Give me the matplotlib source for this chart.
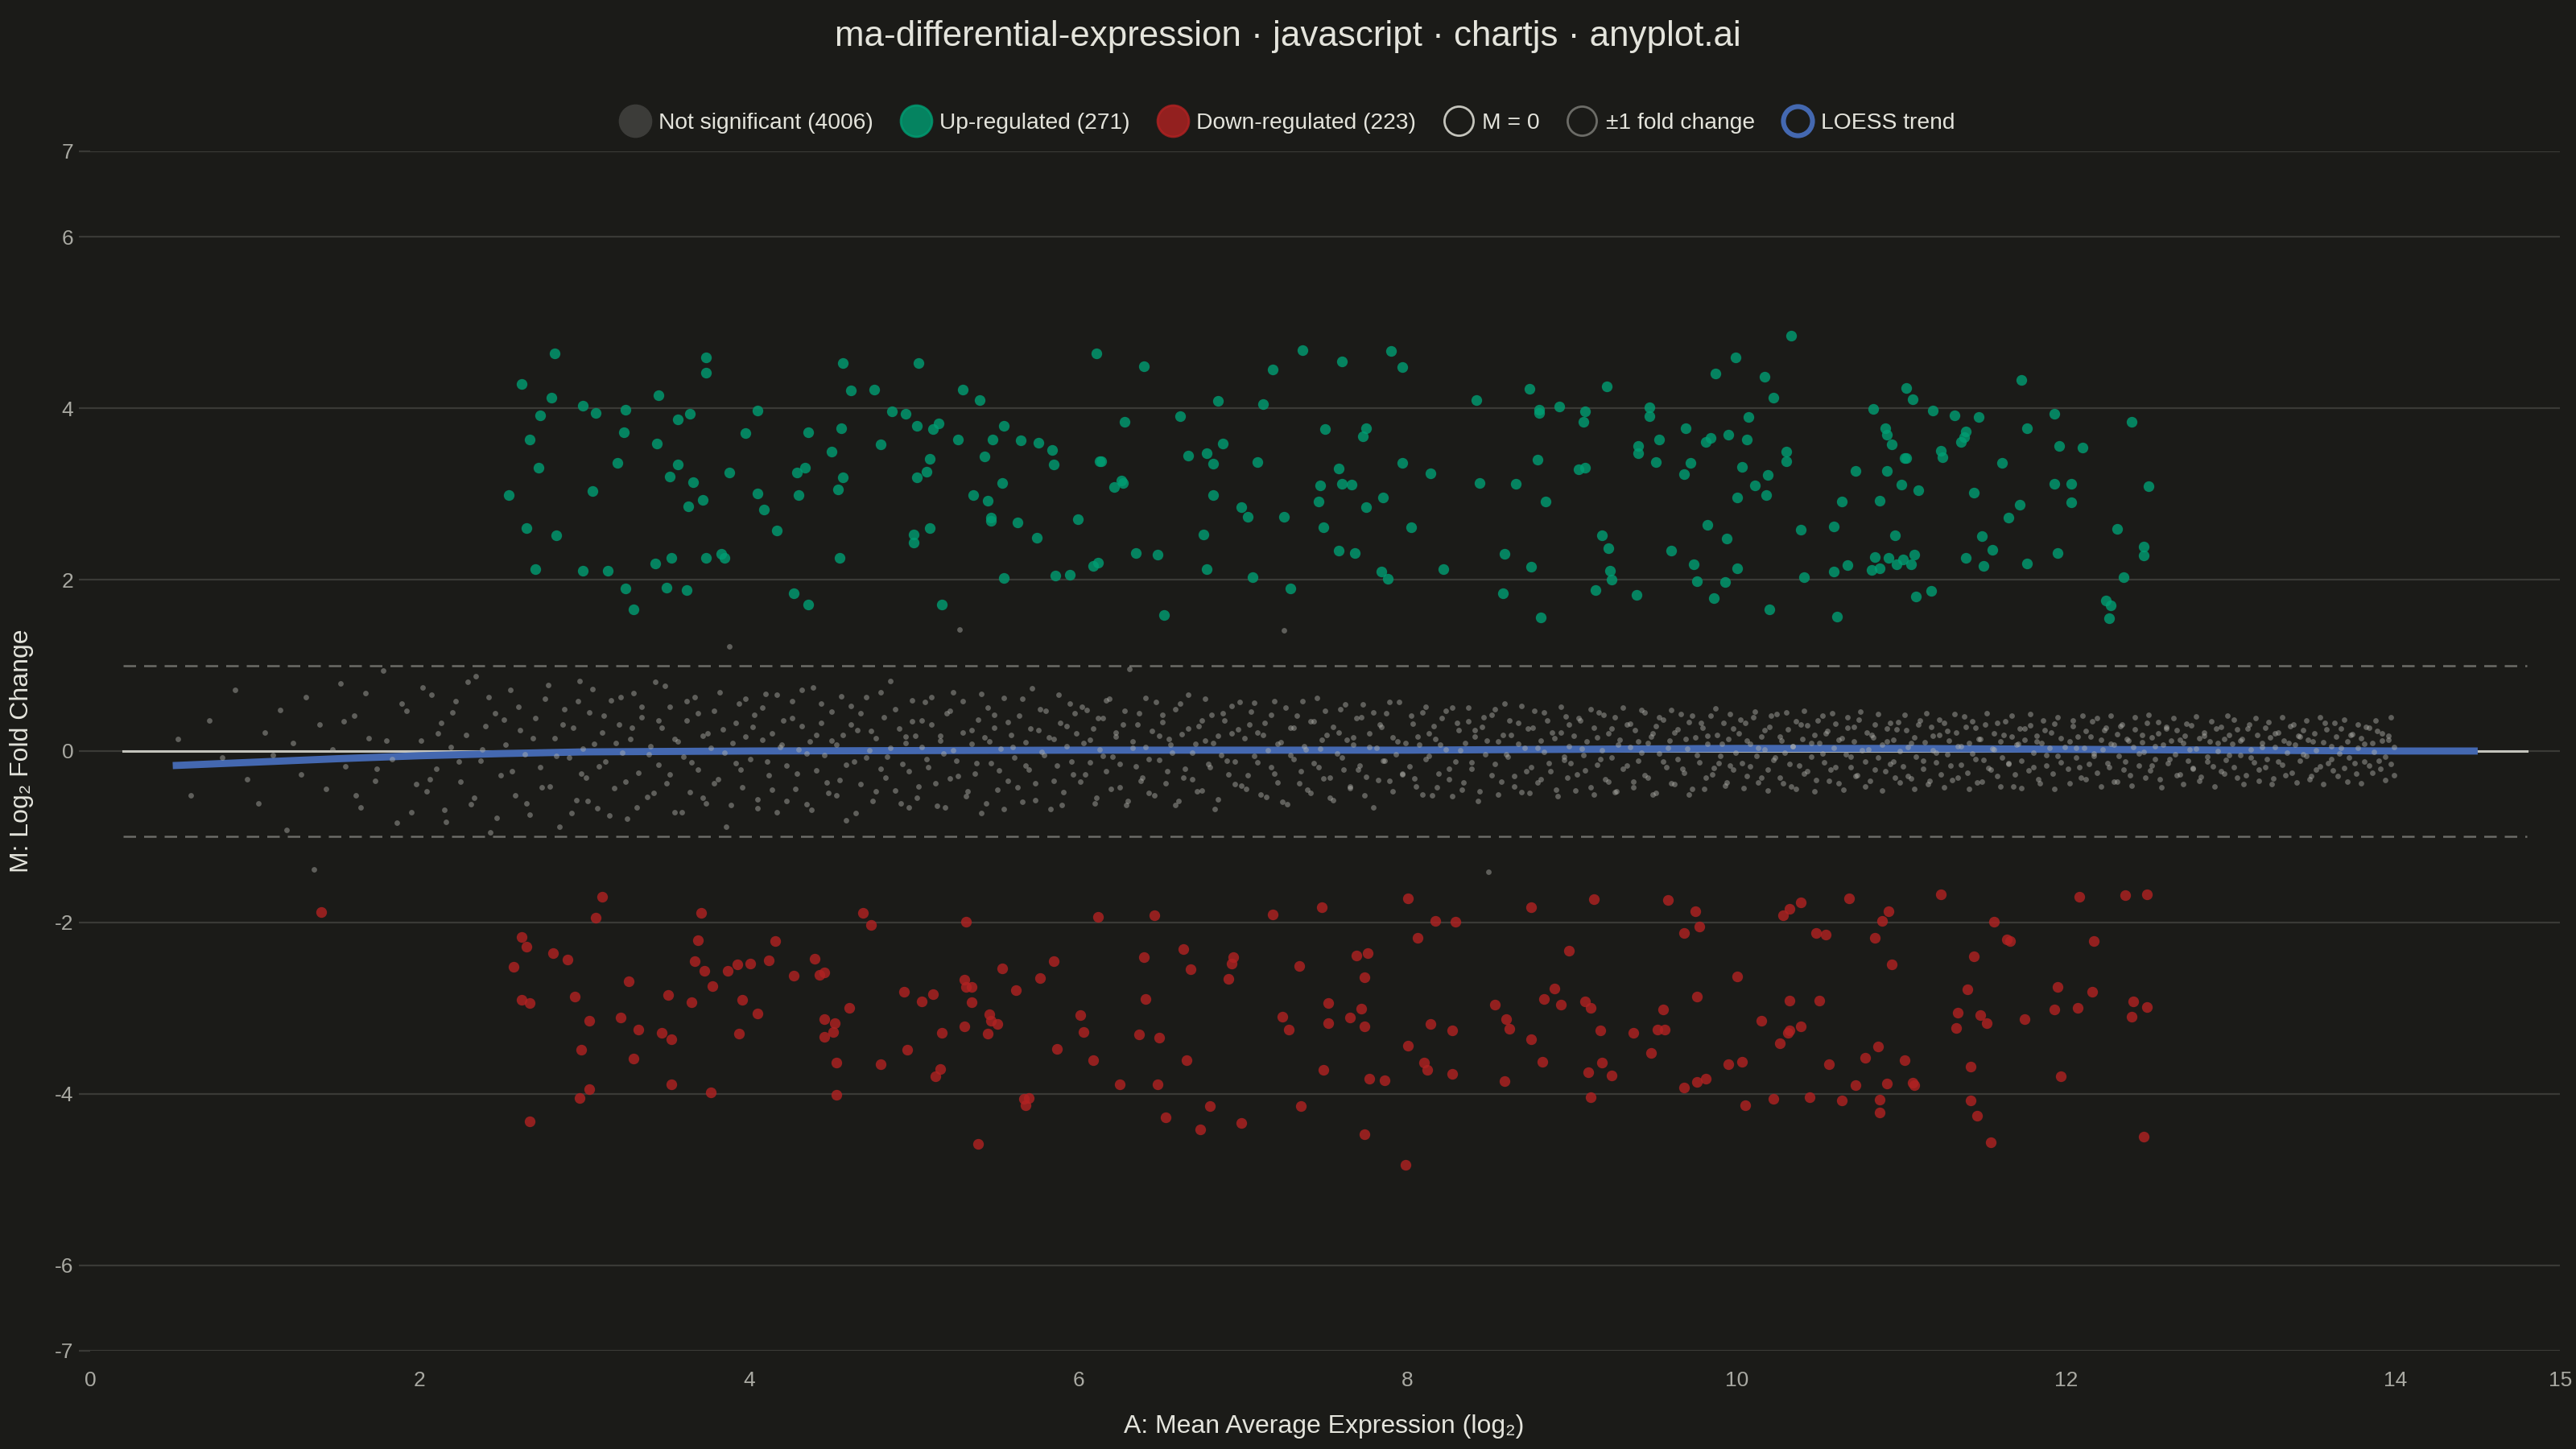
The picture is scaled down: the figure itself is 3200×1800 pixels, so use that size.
import matplotlib
matplotlib.use("Agg")
import matplotlib.pyplot as plt
from matplotlib.lines import Line2D
import numpy as np

# --- values ---
n_not_sig = 4006
n_up = 271
n_down = 223
fc_threshold = 1.0
ref_span = (0.2, 14.8)  # extent of the M = 0 and +-1 reference lines

# significant up-regulated genes (A, M)
up_points = [
    (2.82, 4.64), (2.62, 4.28), (2.80, 4.12), (2.99, 4.03), (3.07, 3.95), (2.73, 3.92), (3.25, 3.98), (3.45, 4.15),
    (3.74, 4.59), (3.74, 4.42), (3.57, 3.87), (3.64, 3.94), (4.05, 3.97), (4.57, 4.53), (4.62, 4.21), (4.76, 4.22),
    (4.87, 3.96), (2.67, 3.64), (3.24, 3.72), (3.44, 3.59), (3.98, 3.71), (4.36, 3.72), (4.56, 3.77), (4.80, 3.58),
    (4.50, 3.49), (2.72, 3.31), (3.20, 3.36), (3.57, 3.34), (3.52, 3.20), (3.66, 3.14), (3.88, 3.25), (4.29, 3.25),
    (4.34, 3.31), (4.57, 3.19), (4.54, 3.05), (2.54, 2.99), (3.05, 3.03), (4.05, 3.01), (4.30, 2.99), (3.72, 2.93),
    (3.63, 2.86), (4.09, 2.82), (2.65, 2.60), (2.83, 2.52), (4.17, 2.57), (2.70, 2.12), (2.99, 2.10), (3.14, 2.10),
    (3.43, 2.19), (3.53, 2.25), (3.74, 2.25), (3.83, 2.30), (3.85, 2.25), (4.55, 2.25), (3.25, 1.90), (3.50, 1.91),
    (3.62, 1.88), (3.30, 1.65), (4.27, 1.84), (4.36, 1.71),
    (5.03, 4.53), (5.30, 4.22), (5.40, 4.10), (6.11, 4.64), (6.40, 4.49), (7.36, 4.68), (7.18, 4.45), (6.85, 4.09),
    (7.12, 4.05), (4.95, 3.94), (5.02, 3.80), (5.15, 3.82), (5.12, 3.76), (5.55, 3.80), (5.27, 3.64), (5.48, 3.64),
    (5.65, 3.63), (5.76, 3.60), (5.84, 3.51), (5.85, 3.34), (5.43, 3.44), (5.10, 3.41), (5.08, 3.26), (5.02, 3.19),
    (6.28, 3.84), (6.62, 3.91), (7.50, 3.76), (6.13, 3.38), (6.14, 3.38), (6.67, 3.45), (6.78, 3.48), (6.82, 3.35),
    (6.88, 3.59), (7.09, 3.37), (5.54, 3.13), (5.36, 2.99), (5.45, 2.92), (6.26, 3.16), (6.27, 3.13), (6.22, 3.08),
    (6.82, 2.99), (7.47, 3.10), (7.46, 2.91), (6.99, 2.85), (7.03, 2.73), (7.25, 2.73), (7.49, 2.61), (5.47, 2.72),
    (5.47, 2.69), (5.63, 2.67), (6.00, 2.71), (5.10, 2.60), (5.00, 2.53), (5.00, 2.43), (5.75, 2.49), (6.76, 2.53),
    (6.35, 2.31), (6.48, 2.29), (6.12, 2.20), (6.09, 2.16), (6.78, 2.12), (5.55, 2.02), (5.86, 2.05), (5.95, 2.06),
    (7.06, 2.03), (7.29, 1.90), (5.17, 1.71), (6.52, 1.59),
    (7.60, 4.55), (7.90, 4.67), (7.97, 4.48), (8.42, 4.10), (8.74, 4.23), (9.21, 4.26), (9.87, 4.41), (9.99, 4.59),
    (8.80, 3.98), (8.80, 3.95), (8.92, 4.02), (9.08, 3.96), (9.07, 3.84), (9.47, 4.01), (9.47, 3.91), (10.07, 3.90),
    (7.75, 3.77), (7.73, 3.67), (7.58, 3.30), (7.60, 3.12), (7.66, 3.11), (7.97, 3.36), (8.14, 3.24), (8.44, 3.13),
    (8.66, 3.12), (8.79, 3.40), (9.04, 3.29), (9.08, 3.31), (8.84, 2.91), (9.40, 3.56), (9.40, 3.48), (9.53, 3.64),
    (9.51, 3.37), (9.69, 3.77), (9.81, 3.61), (9.84, 3.65), (9.95, 3.69), (10.06, 3.64), (9.72, 3.36), (9.68, 3.23),
    (10.03, 3.32), (10.00, 2.96), (7.85, 2.96), (7.75, 2.85), (8.02, 2.61), (7.58, 2.34), (7.68, 2.31), (7.84, 2.09),
    (7.88, 2.01), (8.22, 2.12), (8.59, 2.30), (8.75, 2.15), (8.58, 1.84), (8.81, 1.56), (9.18, 2.52), (9.22, 2.37),
    (9.23, 2.10), (9.24, 2.00), (9.14, 1.88), (9.39, 1.82), (9.60, 2.34), (9.82, 2.64), (9.94, 2.48), (9.74, 2.18),
    (10.00, 2.13), (9.76, 1.98), (9.93, 1.97), (9.86, 1.78),
    (10.33, 4.85), (10.17, 4.37), (10.22, 4.12), (10.83, 3.99), (11.03, 4.24), (11.07, 4.11), (11.19, 3.97),
    (11.32, 3.92), (11.47, 3.90), (11.73, 4.33), (11.93, 3.94), (11.76, 3.77), (12.40, 3.84), (10.90, 3.77),
    (10.91, 3.69), (10.94, 3.58), (11.39, 3.73), (11.38, 3.66), (11.36, 3.61), (11.24, 3.50), (11.25, 3.43),
    (11.02, 3.42), (11.03, 3.42), (11.96, 3.56), (12.10, 3.54), (11.61, 3.36), (10.30, 3.49), (10.30, 3.38),
    (10.19, 3.22), (10.11, 3.10), (10.18, 2.99), (10.72, 3.27), (10.91, 3.27), (11.00, 3.11), (11.10, 3.04),
    (10.64, 2.91), (10.87, 2.92), (11.44, 3.02), (11.72, 2.87), (11.65, 2.72), (11.93, 3.12), (12.03, 3.12),
    (12.03, 2.90), (12.50, 3.09), (10.39, 2.58), (10.59, 2.62), (10.96, 2.52), (11.49, 2.51), (11.55, 2.35),
    (12.31, 2.59), (12.47, 2.39), (12.47, 2.28), (10.84, 2.26), (10.92, 2.25), (11.01, 2.24), (11.08, 2.29),
    (10.97, 2.18), (11.06, 2.18), (10.82, 2.11), (10.87, 2.13), (10.67, 2.17), (10.59, 2.09), (10.41, 2.03),
    (11.39, 2.25), (11.50, 2.16), (11.76, 2.19), (11.95, 2.31), (12.35, 2.03), (11.09, 1.80), (11.18, 1.87),
    (10.20, 1.65), (10.61, 1.57), (12.24, 1.76), (12.27, 1.70), (12.26, 1.55),
]

# significant down-regulated genes (A, M)
down_points = [
    (1.40, -1.88),
    (3.11, -1.70), (3.07, -1.95), (3.71, -1.89), (4.69, -1.89), (4.74, -2.03), (2.62, -2.17), (2.65, -2.28),
    (2.81, -2.36), (2.90, -2.43), (2.57, -2.52), (3.69, -2.21), (3.67, -2.45), (3.73, -2.57), (4.16, -2.22),
    (3.87, -2.57), (3.93, -2.49), (4.01, -2.48), (4.12, -2.44), (4.27, -2.62), (4.40, -2.42), (4.46, -2.58),
    (4.43, -2.61), (3.27, -2.69), (3.78, -2.74), (2.62, -2.90), (2.67, -2.94), (2.94, -2.87), (3.51, -2.85),
    (3.65, -2.93), (3.96, -2.90), (4.94, -2.81), (4.05, -3.06), (4.61, -3.00), (3.03, -3.15), (3.22, -3.11),
    (3.33, -3.25), (3.47, -3.29), (3.53, -3.36), (3.94, -3.30), (4.46, -3.13), (4.52, -3.18), (4.51, -3.28),
    (4.46, -3.34), (2.98, -3.49), (3.30, -3.59), (4.96, -3.49), (4.53, -3.64), (4.80, -3.66), (3.03, -3.95),
    (2.97, -4.05), (3.53, -3.89), (3.77, -3.98), (4.53, -4.01), (2.67, -4.32),
    (5.32, -1.99), (6.12, -1.94), (6.46, -1.92), (7.18, -1.91), (7.48, -1.82), (6.64, -2.31), (6.40, -2.41),
    (6.68, -2.55), (6.94, -2.41), (6.93, -2.48), (6.91, -2.66), (7.34, -2.51), (5.54, -2.54), (5.85, -2.45),
    (5.77, -2.65), (5.62, -2.79), (5.31, -2.67), (5.32, -2.75), (5.35, -2.75), (5.35, -2.93), (5.12, -2.84),
    (5.05, -2.92), (6.41, -2.89), (7.52, -2.94), (5.46, -3.07), (5.47, -3.15), (5.51, -3.19), (5.31, -3.21),
    (5.45, -3.30), (5.17, -3.29), (6.01, -3.08), (6.03, -3.28), (6.37, -3.31), (6.49, -3.35), (7.24, -3.10),
    (7.28, -3.25), (7.52, -3.18), (5.87, -3.48), (6.09, -3.61), (6.66, -3.61), (5.16, -3.71), (5.13, -3.80),
    (7.49, -3.72), (6.25, -3.89), (6.48, -3.89), (5.67, -4.06), (5.70, -4.05), (5.68, -4.13), (6.80, -4.14),
    (7.35, -4.14), (6.53, -4.28), (6.99, -4.34), (6.74, -4.42), (5.39, -4.59),
    (8.00, -1.72), (8.75, -1.82), (9.13, -1.73), (9.58, -1.74), (9.75, -1.87), (8.17, -1.98), (8.29, -1.99),
    (8.06, -2.18), (9.68, -2.12), (9.77, -2.05), (8.98, -2.33), (7.69, -2.39), (7.76, -2.36), (7.74, -2.64),
    (10.00, -2.63), (7.72, -3.01), (7.65, -3.11), (7.74, -3.21), (8.89, -2.77), (8.83, -2.89), (8.93, -2.96),
    (9.08, -2.92), (9.11, -3.00), (8.53, -2.96), (8.60, -3.13), (8.62, -3.24), (8.75, -3.36), (9.76, -2.87),
    (9.55, -3.02), (9.52, -3.25), (9.56, -3.25), (9.17, -3.26), (9.37, -3.29), (9.48, -3.52), (8.14, -3.19),
    (8.27, -3.26), (8.00, -3.44), (8.10, -3.64), (8.12, -3.72), (8.27, -3.77), (8.59, -3.85), (8.82, -3.63),
    (9.18, -3.64), (9.10, -3.75), (9.24, -3.79), (9.11, -4.04), (9.68, -3.93), (9.76, -3.86), (9.81, -3.82),
    (9.95, -3.66), (10.03, -3.63), (10.05, -4.13), (7.77, -3.82), (7.86, -3.84), (7.74, -4.47), (7.99, -4.83),
    (10.39, -1.77), (10.32, -1.84), (10.28, -1.92), (10.68, -1.72), (10.92, -1.87), (10.88, -1.98), (11.24, -1.67),
    (12.08, -1.70), (12.36, -1.68), (12.49, -1.67), (11.56, -1.99), (10.48, -2.12), (10.54, -2.14), (10.84, -2.18),
    (10.94, -2.49), (11.64, -2.20), (11.66, -2.22), (12.17, -2.22), (11.44, -2.40), (11.40, -2.78), (11.34, -3.05),
    (11.48, -3.08), (11.52, -3.18), (11.33, -3.23), (11.75, -3.13), (11.95, -2.75), (12.16, -2.81), (11.93, -3.02),
    (12.07, -3.00), (12.41, -2.92), (12.49, -2.99), (12.40, -3.10), (10.32, -2.91), (10.50, -2.91), (10.15, -3.15),
    (10.32, -3.26), (10.31, -3.29), (10.39, -3.21), (10.26, -3.41), (10.86, -3.45), (10.78, -3.58), (10.56, -3.66),
    (11.02, -3.61), (10.72, -3.90), (10.91, -3.88), (11.07, -3.87), (11.08, -3.90), (11.42, -3.68), (11.97, -3.80),
    (10.22, -4.06), (10.44, -4.04), (10.64, -4.08), (10.87, -4.07), (10.87, -4.22), (11.42, -4.08), (11.46, -4.26),
    (11.54, -4.57), (12.47, -4.50),
]

# not significant genes (A, M), a thinned reading of the grey cloud (core of the band)
ns_points = [
    (0.53, 0.14), (0.61, -0.52), (0.72, 0.36), (0.80, -0.08), (0.88, 0.71), (0.95, -0.33),
    (1.02, -0.61), (1.06, 0.22), (1.11, -0.05), (1.15, 0.48), (1.19, -0.92), (1.23, 0.09), (1.28, -0.27), (1.31, 0.63),
    (1.36, -1.38), (1.39, 0.31), (1.43, -0.44), (1.47, 0.02), (1.52, 0.79), (1.55, -0.18), (1.60, 0.41), (1.64, -0.66),
    (1.69, 0.15), (1.73, -0.35), (1.78, 0.94), (1.83, -0.09), (1.89, 0.55), (1.95, -0.71),
    (2.01, 0.12), (2.04, -0.47), (2.07, 0.66), (2.10, -0.21), (2.13, 0.33), (2.16, -0.83), (2.19, 0.05), (2.22, 0.58),
    (2.25, -0.36), (2.28, 0.19), (2.31, -0.62), (2.34, 0.87), (2.37, -0.11), (2.40, 0.29), (2.43, -0.95), (2.46, 0.44),
    (2.49, -0.28), (2.52, 0.07), (2.55, 0.71), (2.58, -0.52), (2.61, 0.24), (2.64, -0.04), (2.67, -0.74), (2.70, 0.38),
    (2.73, -0.19), (2.76, 0.61), (2.79, -0.41), (2.82, 0.15), (2.85, -0.88), (2.88, 0.49), (2.91, -0.08), (2.93, 0.27),
    (2.95, -0.57), (2.97, 0.82), (2.98, -0.26), (2.99, 0.03),
    (3.01, -0.31), (3.03, 0.45), (3.06, 0.08), (3.08, -0.67), (3.11, 0.22), (3.13, -0.12), (3.16, 0.59), (3.18, -0.43),
    (3.21, 0.31), (3.23, -0.02), (3.26, -0.79), (3.28, 0.14), (3.30, 0.68), (3.33, -0.25), (3.35, 0.39), (3.38, -0.54),
    (3.40, 0.06), (3.43, 0.81), (3.45, -0.16), (3.47, 0.27), (3.50, -0.38), (3.52, 0.52), (3.55, -0.71), (3.57, 0.11),
    (3.60, -0.07), (3.62, 0.36), (3.64, -0.48), (3.67, 0.63), (3.69, -0.22), (3.72, 0.18), (3.74, -0.61), (3.77, 0.04),
    (3.79, 0.47), (3.81, -0.33), (3.84, 0.25), (3.86, -0.88), (3.88, 1.22), (3.90, 0.09), (3.92, -0.14), (3.94, 0.55),
    (3.96, -0.42), (3.98, 0.17),
    (4.01, -0.09), (4.03, 0.42), (4.05, -0.56), (4.08, 0.13), (4.10, 0.67), (4.12, -0.28), (4.14, 0.21), (4.17, -0.71),
    (4.19, 0.05), (4.21, 0.36), (4.23, -0.17), (4.26, 0.58), (4.28, -0.44), (4.30, 0.02), (4.32, 0.29), (4.35, -0.62),
    (4.37, 0.11), (4.39, 0.74), (4.41, -0.23), (4.44, 0.33), (4.46, -0.05), (4.48, -0.49), (4.50, 0.46), (4.53, 0.07),
    (4.55, -0.34), (4.57, 0.19), (4.59, -0.81), (4.62, 0.53), (4.64, -0.12), (4.66, 0.24), (4.68, -0.39), (4.71, 0.63),
    (4.73, 0.01), (4.75, -0.58), (4.77, 0.15), (4.80, -0.21), (4.82, 0.39), (4.84, -0.07), (4.86, 0.82), (4.89, -0.46),
    (4.91, 0.26), (4.93, -0.15), (4.95, 0.09), (4.97, -0.66), (4.99, 0.35),
    (5.01, 0.18), (5.03, -0.41), (5.05, 0.05), (5.07, 0.57), (5.09, -0.19), (5.11, 0.31), (5.14, -0.64), (5.16, 0.12),
    (5.18, -0.03), (5.20, 0.44), (5.22, -0.32), (5.24, 0.69), (5.26, -0.11), (5.28, 1.42), (5.30, 0.22), (5.32, -0.53),
    (5.35, 0.08), (5.37, -0.26), (5.39, 0.37), (5.41, -0.72), (5.43, 0.16), (5.45, 0.51), (5.47, -0.14), (5.49, 0.27),
    (5.51, -0.45), (5.53, 0.03), (5.55, 0.62), (5.57, -0.35), (5.59, 0.19), (5.61, -0.08), (5.64, 0.41), (5.66, -0.59),
    (5.68, 0.10), (5.70, -0.22), (5.72, 0.73), (5.74, -0.38), (5.76, 0.24), (5.78, -0.01), (5.80, 0.47), (5.83, -0.68),
    (5.85, 0.14), (5.87, -0.17), (5.89, 0.33), (5.91, -0.48), (5.93, 0.06), (5.95, 0.55), (5.97, -0.27), (5.99, 0.21),
    (6.01, -0.36), (6.03, 0.09), (6.05, 0.48), (6.07, -0.13), (6.09, 0.26), (6.11, -0.55), (6.13, 0.02), (6.15, 0.38),
    (6.17, -0.24), (6.19, 0.61), (6.21, -0.07), (6.23, 0.17), (6.25, -0.42), (6.27, 0.31), (6.29, -0.63), (6.31, 0.96),
    (6.33, 0.11), (6.35, -0.18), (6.37, 0.44), (6.39, -0.31), (6.41, 0.05), (6.43, -0.49), (6.45, 0.23), (6.47, 0.57),
    (6.49, -0.10), (6.51, 0.34), (6.53, -0.38), (6.55, 0.14), (6.57, -0.02), (6.59, 0.49), (6.61, -0.58), (6.63, 0.20),
    (6.65, -0.21), (6.67, 0.66), (6.69, -0.33), (6.71, 0.08), (6.73, 0.29), (6.75, -0.46), (6.77, 0.12), (6.79, -0.15),
    (6.81, 0.42), (6.83, -0.68), (6.85, 0.18), (6.87, -0.05), (6.89, 0.36), (6.91, -0.27), (6.93, 0.53), (6.95, -0.12),
    (6.97, 0.25), (6.99, -0.40),
    (7.01, 0.15), (7.03, -0.28), (7.05, 0.46), (7.07, -0.06), (7.09, 0.22), (7.11, -0.51), (7.13, 0.33), (7.15, 0.01),
    (7.17, -0.19), (7.19, 0.58), (7.21, -0.37), (7.23, 0.10), (7.25, 1.41), (7.27, -0.62), (7.29, 0.27), (7.31, -0.09),
    (7.33, 0.41), (7.35, -0.24), (7.37, 0.06), (7.39, -0.45), (7.41, 0.35), (7.43, -0.14), (7.45, 0.62), (7.47, 0.03),
    (7.49, -0.32), (7.51, 0.19), (7.53, -0.55), (7.55, 0.28), (7.57, -0.03), (7.59, 0.49), (7.61, -0.22), (7.63, 0.13),
    (7.65, -0.41), (7.67, 0.07), (7.69, 0.38), (7.71, -0.17), (7.73, 0.54), (7.75, -0.30), (7.77, 0.21), (7.79, -0.66),
    (7.81, 0.04), (7.83, 0.31), (7.85, -0.11), (7.87, 0.44), (7.89, -0.35), (7.91, 0.16), (7.93, -0.04), (7.95, 0.57),
    (7.97, -0.26), (7.99, 0.09),
    (8.01, -0.18), (8.03, 0.32), (8.05, -0.41), (8.07, 0.07), (8.09, 0.45), (8.11, -0.09), (8.13, 0.21), (8.15, -0.52),
    (8.17, 0.14), (8.19, -0.26), (8.21, 0.38), (8.23, 0.02), (8.25, -0.33), (8.27, 0.51), (8.29, -0.12), (8.31, 0.24),
    (8.33, -0.45), (8.35, 0.09), (8.37, 0.35), (8.39, -0.21), (8.41, 0.17), (8.43, -0.58), (8.45, 0.28), (8.47, -0.04),
    (8.49, -1.41), (8.51, 0.42), (8.53, -0.15), (8.55, 0.11), (8.57, -0.36), (8.59, 0.55), (8.61, -0.07), (8.63, 0.19),
    (8.65, -0.29), (8.67, 0.33), (8.69, -0.48), (8.71, 0.04), (8.73, 0.26), (8.75, -0.19), (8.77, 0.47), (8.79, -0.37),
    (8.81, 0.12), (8.83, -0.01), (8.85, 0.36), (8.87, -0.24), (8.89, 0.15), (8.91, -0.53), (8.93, 0.22), (8.95, -0.10),
    (8.96, 0.40), (8.97, -0.31), (8.98, 0.06), (8.99, -0.14),
    (9.01, 0.18), (9.03, -0.27), (9.05, 0.36), (9.07, -0.05), (9.09, 0.11), (9.11, -0.42), (9.13, 0.27), (9.15, -0.16),
    (9.16, 0.45), (9.18, 0.01), (9.20, -0.33), (9.22, 0.21), (9.24, -0.08), (9.26, 0.39), (9.27, -0.47), (9.29, 0.13),
    (9.31, -0.21), (9.33, 0.31), (9.35, 0.05), (9.37, -0.36), (9.38, 0.24), (9.40, -0.11), (9.42, 0.48), (9.44, -0.28),
    (9.46, 0.09), (9.48, 0.17), (9.49, -0.51), (9.51, 0.29), (9.53, -0.03), (9.55, 0.37), (9.57, -0.19), (9.59, 0.12),
    (9.60, -0.38), (9.62, 0.22), (9.64, -0.09), (9.66, 0.43), (9.68, -0.25), (9.70, 0.03), (9.71, 0.34), (9.73, -0.44),
    (9.75, 0.16), (9.77, -0.13), (9.79, 0.27), (9.81, -0.31), (9.82, 0.08), (9.84, 0.41), (9.86, -0.20), (9.88, 0.19),
    (9.90, -0.06), (9.92, 0.33), (9.93, -0.40), (9.95, 0.14), (9.96, -0.17), (9.98, 0.26), (9.99, -0.02),
    (10.01, 0.21), (10.03, -0.14), (10.05, 0.33), (10.06, -0.29), (10.08, 0.08), (10.10, 0.39), (10.12, -0.06),
    (10.13, -0.37), (10.15, 0.17), (10.17, 0.02), (10.19, -0.22), (10.20, 0.28), (10.22, -0.10), (10.24, 0.43),
    (10.26, -0.31), (10.27, 0.12), (10.29, -0.02), (10.31, 0.25), (10.33, -0.41), (10.34, 0.06), (10.36, 0.35),
    (10.38, -0.17), (10.40, 0.14), (10.41, -0.26), (10.43, 0.30), (10.45, -0.07), (10.47, 0.19), (10.48, -0.34),
    (10.50, 0.09), (10.52, 0.41), (10.53, -0.13), (10.55, 0.23), (10.57, -0.22), (10.59, 0.04), (10.60, 0.32),
    (10.62, -0.38), (10.64, 0.15), (10.66, -0.04), (10.67, 0.27), (10.69, -0.19), (10.71, 0.11), (10.72, -0.29),
    (10.74, 0.37), (10.76, 0.01), (10.78, -0.12), (10.79, 0.22), (10.81, -0.35), (10.83, 0.16), (10.84, 0.31),
    (10.86, -0.08), (10.88, 0.07), (10.90, -0.24), (10.91, 0.26), (10.93, -0.15), (10.95, 0.13), (10.96, -0.31),
    (10.98, 0.34), (10.99, 0.00),
    (11.01, -0.18), (11.03, 0.24), (11.04, 0.05), (11.06, -0.32), (11.08, 0.16), (11.09, -0.07), (11.11, 0.36),
    (11.13, -0.21), (11.14, 0.10), (11.16, -0.39), (11.18, 0.28), (11.19, 0.01), (11.21, -0.13), (11.23, 0.19),
    (11.24, -0.27), (11.26, 0.33), (11.28, -0.04), (11.29, 0.12), (11.31, -0.34), (11.33, 0.22), (11.34, 0.06),
    (11.36, -0.16), (11.38, 0.40), (11.40, -0.25), (11.41, 0.09), (11.43, -0.03), (11.45, 0.27), (11.46, -0.37),
    (11.48, 0.14), (11.50, -0.10), (11.51, 0.31), (11.53, -0.20), (11.55, 0.03), (11.56, 0.21), (11.58, -0.29),
    (11.60, 0.11), (11.61, -0.08), (11.63, 0.35), (11.65, -0.15), (11.67, 0.17), (11.68, -0.41), (11.70, 0.07),
    (11.72, 0.26), (11.73, -0.11), (11.75, 0.13), (11.77, -0.23), (11.78, 0.30), (11.80, -0.02), (11.82, 0.18),
    (11.83, -0.33), (11.85, 0.09), (11.87, 0.24), (11.88, -0.17), (11.90, 0.04), (11.92, -0.26), (11.93, 0.32),
    (11.95, -0.06), (11.97, 0.15),
    (12.01, -0.21), (12.02, 0.11), (12.04, 0.29), (12.06, -0.08), (12.07, 0.17), (12.09, -0.31), (12.11, 0.04),
    (12.12, 0.23), (12.14, -0.15), (12.16, 0.35), (12.17, -0.03), (12.19, -0.25), (12.21, 0.13), (12.22, 0.02),
    (12.24, 0.27), (12.26, -0.19), (12.27, 0.08), (12.29, -0.36), (12.31, 0.20), (12.32, -0.06), (12.34, 0.31),
    (12.36, -0.12), (12.37, 0.14), (12.39, -0.28), (12.41, 0.05), (12.42, 0.25), (12.44, -0.17), (12.46, 0.10),
    (12.47, -0.01), (12.49, 0.33), (12.51, -0.23), (12.52, 0.16), (12.54, -0.09), (12.56, 0.21), (12.57, -0.33),
    (12.59, 0.07), (12.61, 0.28), (12.62, -0.14), (12.64, 0.12), (12.66, -0.04), (12.67, 0.24), (12.69, -0.27),
    (12.71, 0.09), (12.72, 0.18), (12.74, -0.11), (12.76, 0.30), (12.77, -0.20), (12.79, 0.03), (12.81, 0.15),
    (12.82, -0.30), (12.84, 0.22), (12.86, -0.07), (12.87, 0.11), (12.89, -0.18), (12.91, 0.26), (12.92, 0.00),
    (12.94, -0.24), (12.96, 0.14), (12.97, -0.10), (12.99, 0.19),
    (13.01, 0.08), (13.02, -0.19), (13.04, 0.25), (13.06, -0.05), (13.07, 0.14), (13.09, -0.28), (13.11, 0.31),
    (13.12, 0.02), (13.14, -0.13), (13.16, 0.19), (13.17, -0.22), (13.19, 0.09), (13.21, 0.27), (13.22, -0.09),
    (13.24, 0.16), (13.26, -0.32), (13.27, 0.05), (13.29, 0.22), (13.31, -0.16), (13.32, 0.12), (13.34, -0.02),
    (13.36, 0.29), (13.37, -0.25), (13.39, 0.07), (13.41, 0.18), (13.42, -0.11), (13.44, 0.24), (13.46, -0.06),
    (13.47, 0.13), (13.49, -0.29), (13.51, 0.21), (13.52, 0.01), (13.54, -0.18), (13.56, 0.10), (13.57, 0.33),
    (13.59, -0.14), (13.61, 0.06), (13.62, -0.23), (13.64, 0.17), (13.66, -0.03), (13.67, 0.26), (13.69, -0.20),
    (13.71, 0.11), (13.72, -0.08), (13.74, 0.20), (13.76, -0.26), (13.77, 0.04), (13.79, 0.15), (13.81, -0.12),
    (13.82, 0.28), (13.84, -0.17), (13.86, 0.09), (13.87, -0.01), (13.89, 0.23), (13.91, -0.21), (13.92, 0.12),
    (13.94, -0.07), (13.96, 0.18), (13.97, -0.15), (13.99, 0.05),
]

# not significant genes, outer part of the grey band
ns_points_outer = [
    (1.54, 0.35), (1.61, -0.52), (1.67, 0.68), (1.74, -0.21), (1.80, 0.12), (1.86, -0.84), (1.92, 0.47), (1.98, -0.39),
    (2.02, 0.74), (2.06, -0.33), (2.11, 0.21), (2.15, -0.69), (2.20, 0.45), (2.24, -0.12), (2.29, 0.81), (2.33, -0.55),
    (2.38, 0.02), (2.42, 0.63), (2.47, -0.78), (2.51, 0.37), (2.56, -0.24), (2.60, 0.52), (2.65, -0.61), (2.69, 0.15),
    (2.74, -0.42), (2.78, 0.77), (2.83, -0.06), (2.87, 0.31), (2.92, -0.72), (2.96, 0.58),
    (3.02, -0.58), (3.05, 0.72), (3.09, -0.18), (3.12, 0.41), (3.15, -0.75), (3.19, 0.09), (3.22, 0.63), (3.25, -0.36),
    (3.29, 0.27), (3.32, -0.66), (3.35, 0.52), (3.39, -0.04), (3.42, -0.49), (3.45, 0.36), (3.49, 0.76), (3.52, -0.27),
    (3.55, 0.14), (3.59, -0.71), (3.62, 0.58), (3.65, -0.13), (3.69, 0.44), (3.72, -0.55), (3.75, 0.21), (3.79, -0.38),
    (3.82, 0.69), (3.85, -0.02), (3.89, -0.63), (3.92, 0.33), (3.95, -0.22), (3.98, 0.61),
    (4.02, 0.28), (4.05, -0.67), (4.08, 0.51), (4.11, -0.12), (4.14, -0.45), (4.17, 0.66), (4.20, 0.07), (4.23, -0.58),
    (4.26, 0.38), (4.29, -0.26), (4.32, 0.71), (4.35, -0.03), (4.38, -0.69), (4.41, 0.19), (4.44, 0.55), (4.47, -0.37),
    (4.50, 0.12), (4.53, -0.52), (4.56, 0.64), (4.59, -0.16), (4.62, 0.31), (4.65, -0.72), (4.68, 0.44), (4.71, -0.08),
    (4.74, 0.23), (4.77, -0.47), (4.80, 0.69), (4.83, -0.31), (4.86, 0.04), (4.89, 0.49), (4.92, -0.61), (4.95, 0.17),
    (4.97, -0.24), (4.99, 0.59),
    (5.02, -0.55), (5.05, 0.36), (5.08, -0.09), (5.11, 0.63), (5.13, -0.38), (5.16, 0.18), (5.19, -0.66), (5.22, 0.47),
    (5.24, 0.01), (5.27, -0.29), (5.30, 0.58), (5.33, -0.47), (5.35, 0.24), (5.38, -0.14), (5.41, 0.67), (5.44, -0.61),
    (5.46, 0.11), (5.49, 0.42), (5.52, -0.23), (5.55, -0.68), (5.57, 0.34), (5.60, 0.05), (5.63, -0.42), (5.66, 0.61),
    (5.68, -0.17), (5.71, 0.26), (5.74, -0.57), (5.77, 0.49), (5.79, -0.05), (5.82, 0.16), (5.85, -0.35), (5.88, 0.66),
    (5.90, -0.63), (5.93, 0.29), (5.96, -0.12), (5.98, 0.44),
    (6.02, 0.52), (6.04, -0.27), (6.07, 0.13), (6.10, -0.61), (6.12, 0.38), (6.15, -0.06), (6.17, 0.59), (6.20, -0.44),
    (6.23, 0.22), (6.25, -0.15), (6.28, 0.47), (6.30, -0.58), (6.33, 0.04), (6.36, 0.31), (6.38, -0.35), (6.41, 0.62),
    (6.43, -0.09), (6.46, -0.52), (6.49, 0.18), (6.51, 0.42), (6.54, -0.24), (6.56, 0.07), (6.59, -0.63), (6.62, 0.55),
    (6.64, -0.31), (6.67, 0.26), (6.69, -0.02), (6.72, -0.47), (6.75, 0.36), (6.77, 0.61), (6.80, -0.19), (6.82, 0.09),
    (6.85, -0.56), (6.88, 0.44), (6.90, -0.11), (6.93, 0.21), (6.95, -0.39), (6.98, 0.57),
    (7.02, -0.44), (7.04, 0.31), (7.07, 0.56), (7.09, -0.13), (7.12, 0.19), (7.14, -0.54), (7.17, 0.42), (7.19, -0.26),
    (7.21, 0.08), (7.24, -0.59), (7.26, 0.51), (7.29, -0.05), (7.31, 0.27), (7.34, -0.38), (7.36, 0.58), (7.38, 0.02),
    (7.41, -0.49), (7.43, 0.35), (7.46, -0.19), (7.48, 0.13), (7.50, 0.47), (7.53, -0.31), (7.55, -0.57), (7.58, 0.22),
    (7.60, -0.08), (7.62, 0.54), (7.65, -0.43), (7.67, 0.16), (7.70, -0.22), (7.72, 0.39), (7.74, -0.52), (7.77, 0.05),
    (7.79, 0.45), (7.82, -0.34), (7.84, 0.28), (7.86, -0.11), (7.89, 0.57), (7.91, -0.47), (7.94, 0.11), (7.97, -0.27),
    (8.02, 0.41), (8.04, -0.32), (8.06, 0.17), (8.09, -0.51), (8.11, 0.52), (8.13, -0.06), (8.16, 0.29), (8.18, -0.42),
    (8.20, 0.07), (8.23, 0.47), (8.25, -0.21), (8.27, -0.53), (8.30, 0.33), (8.32, 0.01), (8.34, -0.37), (8.37, 0.51),
    (8.39, -0.13), (8.41, 0.24), (8.44, -0.47), (8.46, 0.39), (8.48, 0.12), (8.51, -0.28), (8.53, 0.49), (8.55, -0.51),
    (8.58, 0.19), (8.60, -0.04), (8.62, 0.36), (8.65, -0.41), (8.67, 0.08), (8.69, 0.53), (8.72, -0.24), (8.74, -0.49),
    (8.76, 0.27), (8.79, 0.04), (8.81, -0.33), (8.83, 0.45), (8.86, -0.14), (8.88, 0.22), (8.90, -0.45), (8.93, 0.52),
    (8.95, -0.07), (8.98, 0.31),
    (9.02, -0.46), (9.04, 0.38), (9.06, 0.03), (9.08, -0.23), (9.11, 0.49), (9.13, -0.51), (9.15, 0.16), (9.17, -0.09),
    (9.19, 0.42), (9.22, -0.36), (9.24, 0.26), (9.26, -0.48), (9.28, 0.07), (9.31, 0.51), (9.33, -0.17), (9.35, 0.32),
    (9.37, -0.42), (9.40, 0.11), (9.42, -0.02), (9.44, 0.45), (9.46, -0.31), (9.49, 0.21), (9.51, -0.49), (9.53, 0.39),
    (9.55, -0.12), (9.58, 0.04), (9.60, 0.48), (9.62, -0.39), (9.64, 0.25), (9.67, -0.21), (9.69, 0.14), (9.71, -0.51),
    (9.73, 0.41), (9.76, -0.05), (9.78, 0.33), (9.80, -0.44), (9.82, 0.18), (9.85, -0.27), (9.87, 0.50), (9.89, -0.14),
    (9.91, 0.08), (9.94, -0.37), (9.96, 0.43), (9.98, -0.22),
    (10.02, 0.37), (10.04, -0.43), (10.06, 0.12), (10.08, -0.18), (10.11, 0.46), (10.13, 0.04), (10.15, -0.31),
    (10.17, 0.24), (10.19, -0.46), (10.21, 0.41), (10.23, -0.08), (10.26, 0.17), (10.28, -0.38), (10.30, 0.45),
    (10.32, -0.15), (10.34, 0.06), (10.36, -0.44), (10.39, 0.31), (10.41, 0.47), (10.43, -0.24), (10.45, 0.09),
    (10.47, -0.47), (10.49, 0.36), (10.52, -0.03), (10.54, 0.21), (10.56, -0.35), (10.58, 0.44), (10.60, -0.19),
    (10.62, 0.13), (10.65, -0.45), (10.67, 0.39), (10.69, -0.07), (10.71, 0.28), (10.73, -0.28), (10.75, 0.46),
    (10.78, -0.41), (10.80, 0.02), (10.82, 0.19), (10.84, -0.22), (10.86, 0.43), (10.88, -0.46), (10.91, 0.11),
    (10.93, 0.33), (10.95, -0.12), (10.97, 0.25), (10.99, -0.37),
    (11.02, 0.42), (11.04, -0.29), (11.06, 0.09), (11.08, -0.44), (11.10, 0.31), (11.13, -0.11), (11.15, 0.44),
    (11.17, -0.35), (11.19, 0.18), (11.21, -0.02), (11.23, 0.37), (11.26, -0.42), (11.28, 0.23), (11.30, -0.17),
    (11.32, 0.43), (11.34, -0.31), (11.36, 0.06), (11.39, 0.28), (11.41, -0.44), (11.43, 0.35), (11.45, -0.09),
    (11.47, 0.14), (11.49, -0.36), (11.52, 0.44), (11.54, -0.22), (11.56, 0.02), (11.58, 0.33), (11.60, -0.41),
    (11.62, 0.19), (11.65, -0.14), (11.67, 0.41), (11.69, -0.27), (11.71, 0.08), (11.73, -0.43), (11.75, 0.26),
    (11.78, 0.43), (11.80, -0.19), (11.82, 0.11), (11.84, -0.38), (11.86, 0.36), (11.88, -0.05), (11.91, 0.22),
    (11.93, -0.44), (11.95, 0.39), (11.97, -0.13), (11.99, 0.05),
    (12.02, -0.38), (12.04, 0.36), (12.06, 0.04), (12.08, -0.19), (12.10, 0.41), (12.12, -0.33), (12.15, 0.17),
    (12.17, -0.06), (12.19, 0.38), (12.21, -0.41), (12.23, 0.24), (12.25, -0.14), (12.27, 0.41), (12.29, 0.07),
    (12.31, -0.36), (12.33, 0.29), (12.35, -0.22), (12.38, 0.12), (12.40, -0.40), (12.42, 0.39), (12.44, -0.03),
    (12.46, 0.19), (12.48, -0.31), (12.50, 0.42), (12.52, -0.17), (12.54, 0.06), (12.56, 0.34), (12.58, -0.42),
    (12.61, 0.26), (12.63, -0.09), (12.65, 0.38), (12.67, -0.28), (12.69, 0.13), (12.71, -0.39), (12.73, 0.32),
    (12.75, 0.02), (12.77, -0.21), (12.79, 0.40), (12.81, -0.35), (12.84, 0.18), (12.86, -0.12), (12.88, 0.35),
    (12.90, -0.41), (12.92, 0.09), (12.94, 0.28), (12.96, -0.26), (12.98, 0.41), (12.99, -0.05),
    (13.02, 0.37), (13.04, -0.31), (13.06, 0.12), (13.08, -0.39), (13.10, 0.26), (13.12, -0.08), (13.15, 0.38),
    (13.17, -0.35), (13.19, 0.05), (13.21, -0.19), (13.23, 0.34), (13.25, -0.39), (13.27, 0.21), (13.29, -0.12),
    (13.31, 0.39), (13.33, -0.28), (13.35, 0.09), (13.38, 0.31), (13.40, -0.37), (13.42, 0.17), (13.44, -0.04),
    (13.46, 0.36), (13.48, -0.33), (13.50, 0.11), (13.52, -0.22), (13.54, 0.39), (13.56, -0.39), (13.58, 0.25),
    (13.61, -0.09), (13.63, 0.33), (13.65, -0.29), (13.67, 0.04), (13.69, 0.37), (13.71, -0.36), (13.73, 0.19),
    (13.75, -0.14), (13.77, 0.31), (13.79, -0.38), (13.81, 0.08), (13.84, 0.27), (13.86, -0.25), (13.88, 0.36),
    (13.90, -0.11), (13.92, 0.21), (13.94, -0.34), (13.96, 0.13), (13.97, 0.39), (13.99, -0.28),
]

# LOESS trend line
loess_a = [0.5, 1.0, 1.5, 2.0, 2.5, 3.0, 4.0, 5.0, 6.0, 7.0, 8.0, 9.0, 10.0, 11.0, 12.0, 13.0, 14.0, 14.5]
loess_m = [-0.17, -0.13, -0.09, -0.055, -0.03, -0.01, 0.0, 0.005, 0.01, 0.01, 0.01, 0.02, 0.03, 0.03, 0.02, 0.01, 0.0, 0.0]

x_ticks = [0, 2, 4, 6, 8, 10, 12, 14, 15]
y_ticks = [-7, -6, -4, -2, 0, 2, 4, 6, 7]

title = "ma-differential-expression · javascript · chartjs · anyplot.ai"
x_label = "A: Mean Average Expression (log₂)"
y_label = "M: Log₂ Fold Change"

# --- colours ---
BG = "#1b1b18"
GRID = "#3a3a36"
TICK = "#a9a9a2"
TEXT = "#e4e4dc"
NS_COLOR = "#b4b4ae"
UP_COLOR = "#009E73"
DOWN_COLOR = "#B22222"
ZERO_COLOR = "#c4c4bc"
DASH_COLOR = "#6c6c67"
LOESS_COLOR = "#4468b0"

plt.rcParams["font.family"] = ["Liberation Sans", "DejaVu Sans"]
plt.rcParams["axes.unicode_minus"] = False

ns = np.array(ns_points + ns_points_outer)
up = np.array(up_points)
down = np.array(down_points)

fig = plt.figure(figsize=(16, 9), dpi=200, facecolor=BG)
ax = fig.add_axes([0.0351, 0.0678, 0.9587, 0.8278], facecolor=BG)
ax.set_xlim(0, 15)
ax.set_ylim(-7, 7)
ax.set_xticks(x_ticks)
ax.set_yticks(y_ticks)
ax.yaxis.grid(True, color=GRID, lw=0.8)
ax.xaxis.grid(False)
ax.set_axisbelow(True)
for s in ax.spines.values():
    s.set_visible(False)
ax.tick_params(axis="y", length=5, width=0.8, color=GRID, labelcolor=TICK, labelsize=9.5, pad=2.5)
ax.tick_params(axis="x", length=0, labelcolor=TICK, labelsize=9.5, pad=9)

# reference lines
ax.plot(ref_span, [0, 0], color=ZERO_COLOR, lw=1.1, zorder=2)
for yv in (fc_threshold, -fc_threshold):
    ax.plot(ref_span, [yv, yv], color=DASH_COLOR, lw=0.9, dashes=(6.2, 4.0), zorder=2)

ax.plot(loess_a, loess_m, color=LOESS_COLOR, lw=3.2, solid_capstyle="butt", zorder=3)
ax.scatter(ns[:, 0], ns[:, 1], s=6, color=NS_COLOR, alpha=0.45, linewidths=0, zorder=4)
ax.scatter(up[:, 0], up[:, 1], s=23, color=UP_COLOR, alpha=0.8, linewidths=0, zorder=5)
ax.scatter(down[:, 0], down[:, 1], s=23, color=DOWN_COLOR, alpha=0.8, linewidths=0, zorder=5)

# legend
handles = [
    Line2D([], [], ls="", marker="o", ms=14, mfc="#3c3c39", mec="#3c3c39"),
    Line2D([], [], ls="", marker="o", ms=14, mfc=UP_COLOR, mec=UP_COLOR, alpha=0.8),
    Line2D([], [], ls="", marker="o", ms=14, mfc=DOWN_COLOR, mec=DOWN_COLOR, alpha=0.8),
    Line2D([], [], ls="", marker="o", ms=13, mfc=BG, mec=ZERO_COLOR, mew=1.0),
    Line2D([], [], ls="", marker="o", ms=13, mfc=BG, mec=DASH_COLOR, mew=1.0),
    Line2D([], [], ls="", marker="o", ms=13, mfc=BG, mec=LOESS_COLOR, mew=2.2),
]
labels = [
    f"Not significant ({n_not_sig})",
    f"Up-regulated ({n_up})",
    f"Down-regulated ({n_down})",
    "M = 0",
    "±1 fold change",
    "LOESS trend",
]
fig.legend(handles, labels, loc="center", bbox_to_anchor=(0.4995, 0.915), ncol=6, frameon=False,
           fontsize=10.2, handlelength=1.45, handletextpad=0.3, columnspacing=1.15, labelcolor=TEXT,
           borderaxespad=0, borderpad=0)

fig.text(0.5, 0.975, title, ha="center", va="center", fontsize=15.8, color=TEXT)
fig.text(0.514, 0.0156, x_label, ha="center", va="center", fontsize=11.5, color=TEXT)
fig.text(0.0084, 0.4817, y_label, ha="center", va="center", rotation=90, fontsize=11.5, color=TEXT)

fig.savefig("out.png", dpi=200, facecolor=BG)
